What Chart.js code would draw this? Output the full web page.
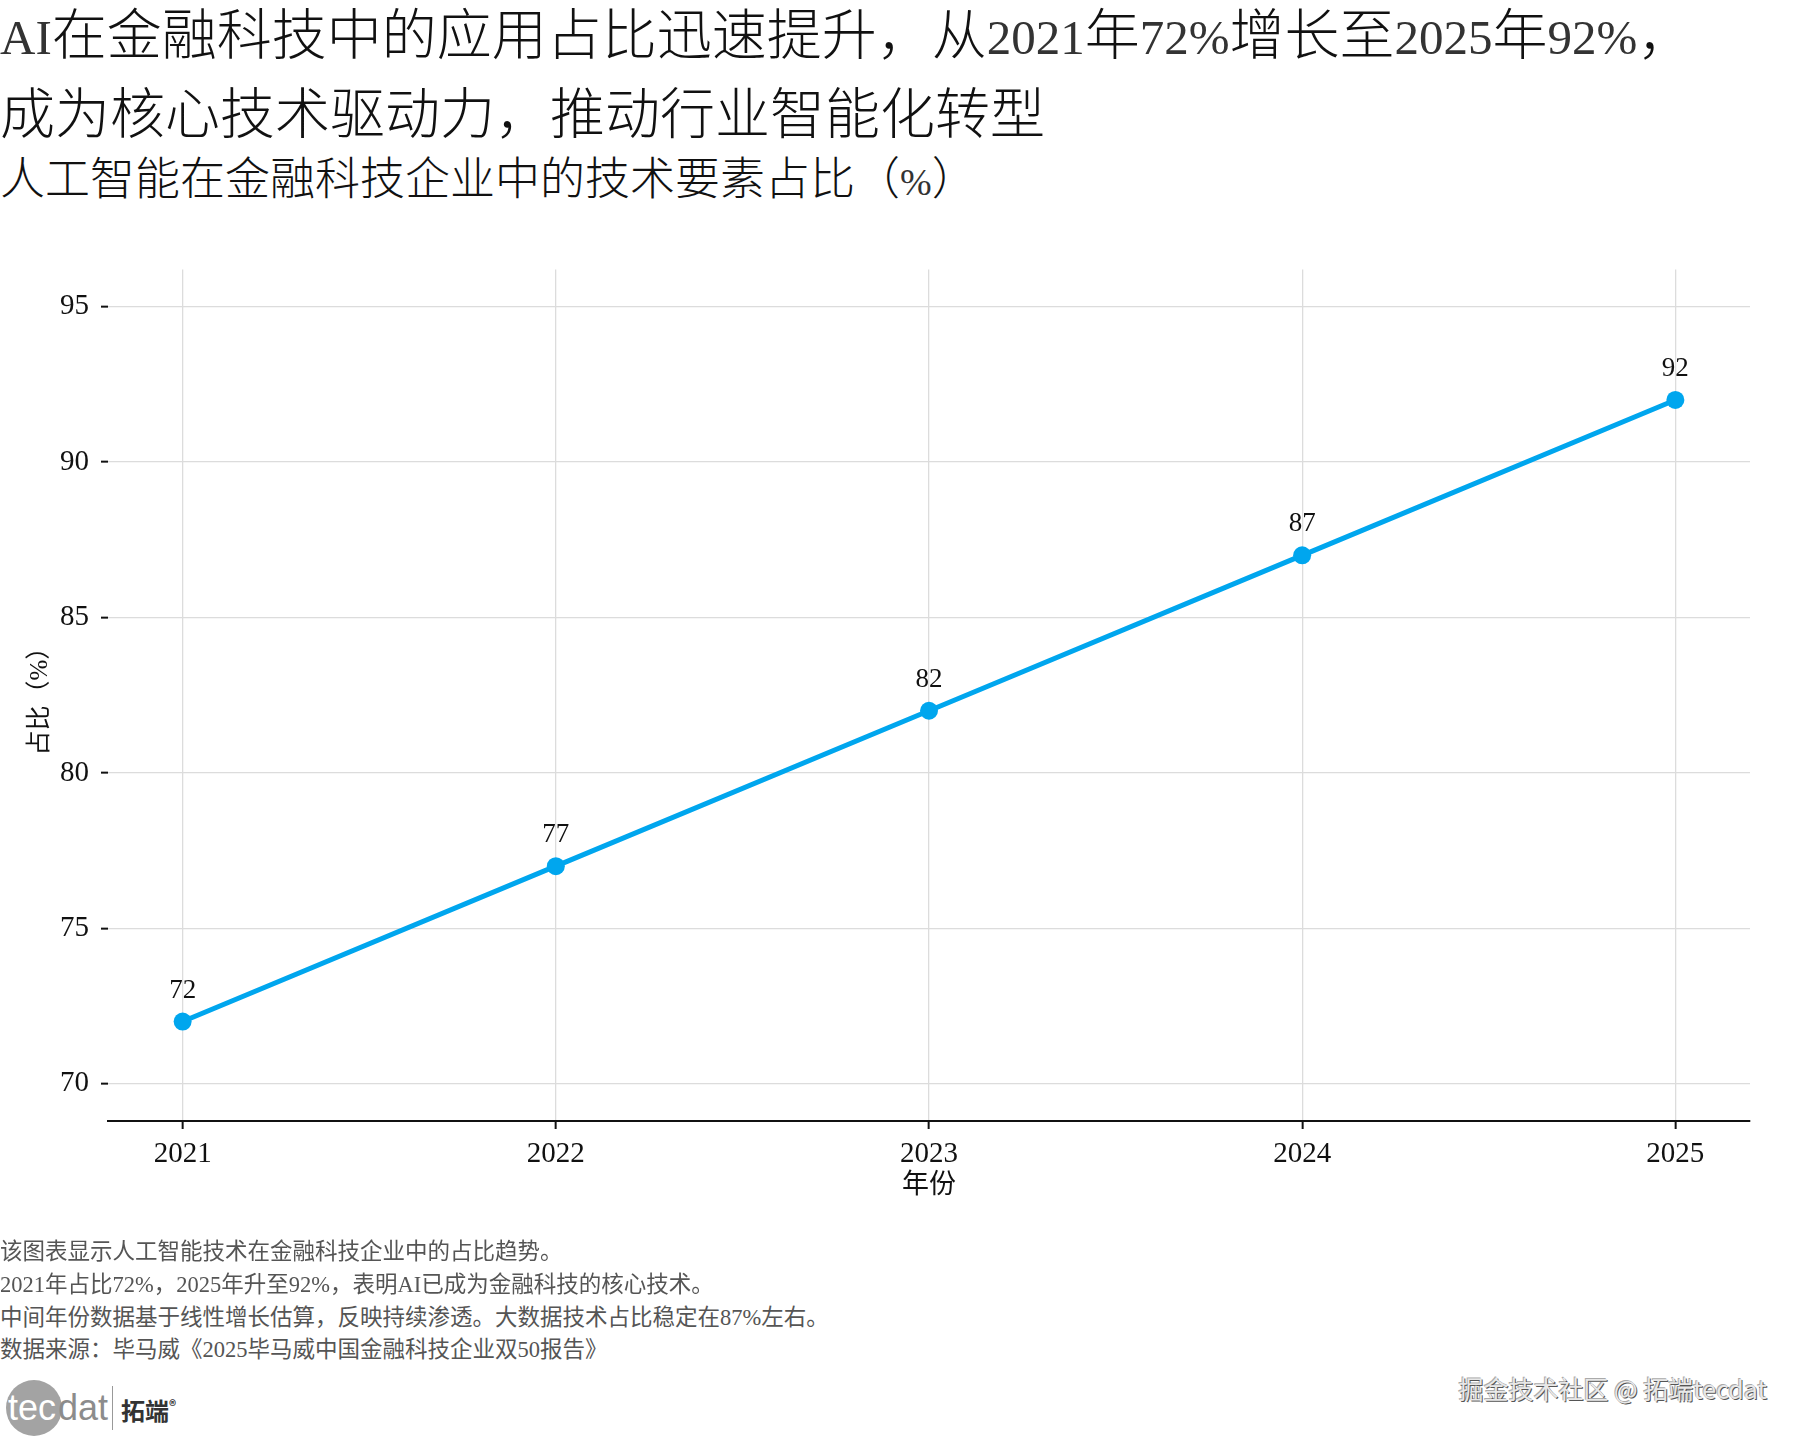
<!DOCTYPE html>
<html>
<head>
<meta charset="utf-8">
<script src="https://cdn.jsdelivr.net/npm/chart.js@4/dist/chart.umd.min.js"></script>
<style>
  html, body { margin: 0; padding: 0; background: #fff; }
  body { width: 1800px; height: 1440px; position: relative; overflow: hidden;
         font-family: 'Liberation Serif', 'Noto Sans CJK SC', serif; color: #111; }
  .t { position: absolute; left: 0; white-space: nowrap; line-height: 1; font-weight: 300; }
  .t .n { font-size: 49px; font-weight: 300; color: #333; }
  #title1 { top: 8px; font-size: 55px; }
  #title2 { top: 87px; font-size: 55px; }
  #subtitle { top: 158px; font-size: 45px; }
  .note { position: absolute; left: 0; font-size: 22.5px; color: #555; white-space: nowrap; line-height: 1; }
  #chartBox { position: absolute; left: 0; top: 240px; width: 1800px; height: 1000px; }
  #logo { position: absolute; left: 4px; top: 1378px; height: 60px; width: 200px; }
  #logo .circ { position: absolute; left: 2px; top: 2px; width: 56px; height: 56px; border-radius: 50%; background: #a3a3a3; }
  #logo .tec { position: absolute; left: 4px; top: 9px; font: 36px 'Liberation Sans Narrow', 'Liberation Sans', sans-serif; color: #fff; }
  #logo .dat { position: absolute; left: 54px; top: 9px; font: 36px 'Liberation Sans Narrow', 'Liberation Sans', sans-serif; color: #8c8c8c; }
  #logo .sep { position: absolute; left: 108px; top: 8px; width: 1px; height: 44px; background: #999; }
  #logo .cn { position: absolute; left: 117px; top: 14px; font: bold 24px 'Noto Sans CJK SC', sans-serif; color: #333; }
  #logo .cn sup { font-size: 14px; }
  #wm { position: absolute; right: 33px; top: 1370px; font: 25px 'Noto Sans CJK SC', sans-serif;
        color: #e8e8e8; text-shadow: 1px 1px 0 #555, -1px -1px 0 #aaa; white-space: nowrap; }
</style>
</head>
<body>
<div class="t" id="title1"><span class="n">AI</span>在金融科技中的应用占比迅速提升，从<span class="n">2021</span>年<span class="n">72%</span>增长至<span class="n">2025</span>年<span class="n">92%</span>，</div>
<div class="t" id="title2">成为核心技术驱动力，推动行业智能化转型</div>
<div class="t" id="subtitle">人工智能在金融科技企业中的技术要素占比（<span class="n" style="font-size:38px">%</span>）</div>

<div id="chartBox"><canvas id="myChart" width="1800" height="1000"></canvas></div>

<div class="note" style="top:1241px">该图表显示人工智能技术在金融科技企业中的占比趋势。</div>
<div class="note" style="top:1274px">2021年占比72%，2025年升至92%，表明AI已成为金融科技的核心技术。</div>
<div class="note" style="top:1307px">中间年份数据基于线性增长估算，反映持续渗透。大数据技术占比稳定在87%左右。</div>
<div class="note" style="top:1339px">数据来源：毕马威《2025毕马威中国金融科技企业双50报告》</div>

<div id="logo">
  <div class="circ"></div>
  <div class="tec">tec</div>
  <div class="dat">dat</div>
  <div class="sep"></div>
  <div class="cn">拓端<sup>®</sup></div>
</div>
<div id="wm">掘金技术社区 @ 拓端tecdat</div>

<script>
const years = [2021, 2022, 2023, 2024, 2025];
const aiShare = [72, 77, 82, 87, 92];
const yTicks = [70, 75, 80, 85, 90, 95];

const serif = "'Liberation Serif', 'Noto Sans CJK SC', serif";
const lineColor = '#00a6ee';

// labels above each point
const pointLabels = {
  id: 'pointLabels',
  afterDatasetsDraw(chart) {
    const c = chart.ctx;
    const meta = chart.getDatasetMeta(0);
    c.save();
    c.font = '27px ' + serif;
    c.fillStyle = '#111';
    c.textAlign = 'center';
    c.textBaseline = 'middle';
    meta.data.forEach((pt, i) => {
      c.fillText(String(aiShare[i]), pt.x, pt.y - 31);
    });
    c.restore();
  }
};

const ctx = document.getElementById('myChart');
const chart = new Chart(ctx, {
  type: 'line',
  data: {
    datasets: [{
      label: '占比',
      data: years.map((y, i) => ({ x: y, y: aiShare[i] })),
      borderColor: lineColor,
      backgroundColor: lineColor,
      borderWidth: 5,
      pointRadius: 9,
      pointHoverRadius: 9,
      pointBorderWidth: 0,
      tension: 0
    }]
  },
  options: {
    responsive: false,
    animation: false,
    devicePixelRatio: 1,
    layout: { padding: { top: 27, right: 50, left: 0, bottom: 0 } },
    plugins: {
      legend: { display: false },
      tooltip: { enabled: false }
    },
    scales: {
      x: {
        type: 'linear',
        min: 2020.8,
        max: 2025.2,
        afterBuildTicks: (axis) => { axis.ticks = years.map(v => ({ value: v })); },
        afterFit: (axis) => { axis.height = 119; },
        ticks: {
          font: { family: serif, size: 29 },
          color: '#111',
          padding: 8,
          maxRotation: 0,
          callback: (v) => String(v)
        },
        grid: { color: '#dcdcdc', lineWidth: 1.3, drawTicks: true, tickLength: 8, tickColor: '#111', tickWidth: 2 },
        border: { display: true, color: '#111', width: 2 },
        title: {
          display: true,
          text: '年份',
          font: { family: serif, size: 27 },
          color: '#111',
          padding: { top: 0, bottom: 38 }
        }
      },
      y: {
        min: 68.8,
        max: 96.2,
        afterBuildTicks: (axis) => { axis.ticks = yTicks.map(v => ({ value: v })); },
        afterFit: (axis) => { axis.width = 108; },
        ticks: {
          font: { family: serif, size: 29 },
          color: '#111',
          padding: 12
        },
        grid: { color: '#dcdcdc', lineWidth: 1.3, drawTicks: true, tickLength: 7, tickColor: '#111', tickWidth: 2 },
        border: { display: false },
        title: {
          display: true,
          text: '占比（%）',
          font: { family: serif, size: 25 },
          color: '#111',
          padding: { top: 25, bottom: 0 }
        }
      }
    }
  },
  plugins: [pointLabels]
});
</script>
</body>
</html>
